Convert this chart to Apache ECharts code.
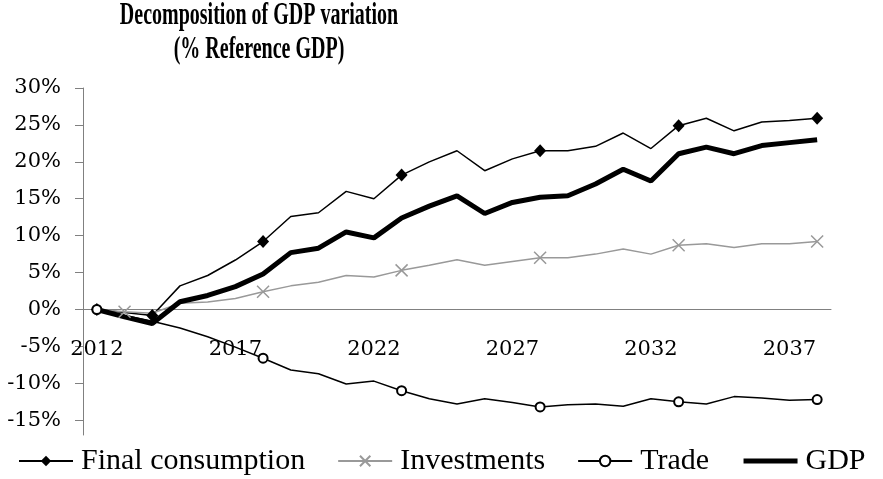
<!DOCTYPE html>
<html>
<head>
    <meta charset="utf-8">
    <title>ECharts</title>
    <script src="https://cdn.jsdelivr.net/npm/echarts@6/dist/echarts.min.js"></script>
</head>
<style>
    *{
        padding: 0;
        margin: 0;
    }
    #main {
        width: 883px;
        height: 479px;
        position: absolute
    }
</style>
<body>
    <div id="main" ></div>
    <script type="text/javascript">
    // categories and values (% of reference GDP)
    var years = ['2012','2013','2014','2015','2016','2017','2018','2019','2020','2021','2022','2023','2024','2025',
                 '2026','2027','2028','2029','2030','2031','2032','2033','2034','2035','2036','2037','2038'];
    var finalConsumption = [0, -0.4, -0.8, 3.2, 4.6, 6.7, 9.2, 12.6, 13.1, 16.0, 15.0, 18.2, 20.0, 21.5,
                            18.8, 20.4, 21.5, 21.5, 22.1, 23.9, 21.8, 24.9, 25.9, 24.2, 25.4, 25.6, 25.9];
    var investments = [0, -0.3, -0.5, 0.85, 1.0, 1.5, 2.4, 3.2, 3.7, 4.6, 4.4, 5.3, 6.0, 6.75,
                       6.0, 6.5, 7.0, 7.0, 7.5, 8.2, 7.5, 8.7, 8.9, 8.4, 8.9, 8.9, 9.2];
    var trade = [0, -0.8, -1.6, -2.5, -3.7, -5.1, -6.6, -8.2, -8.7, -10.1, -9.7, -11.0, -12.1, -12.8,
                 -12.1, -12.6, -13.2, -12.9, -12.8, -13.1, -12.1, -12.5, -12.8, -11.8, -12.0, -12.3, -12.2];
    var gdp = [0, -1.0, -1.9, 1.05, 1.9, 3.1, 4.8, 7.7, 8.3, 10.5, 9.7, 12.4, 14.0, 15.4,
               13.0, 14.5, 15.2, 15.4, 17.0, 19.0, 17.4, 21.1, 22.0, 21.1, 22.2, 22.6, 23.0];
    var yTicks = [-15, -10, -5, 0, 5, 10, 15, 20, 25, 30];

    // which points carry a marker
    var fcMarks = [0, 2, 6, 11, 16, 21, 26];
    var invMarks = [1, 6, 11, 16, 21, 26];
    var tradeMarks = [0, 6, 11, 16, 21, 26];

    function marked(values, marks) {
        return values.map(function (v, i) {
            return marks.indexOf(i) >= 0 ? v : { value: v, symbol: 'none' };
        });
    }

    var yMin = -17, yMax = 30;
    var gridTop = 88, gridBottom = 44, chartH = 479;
    var plotH = chartH - gridTop - gridBottom;
    // x axis sits on the 0% line
    var zeroOffset = -plotH * (0 - yMin) / (yMax - yMin);

    var axisFont = 'DejaVu Serif';
    var myChart = echarts.init(document.getElementById('main'));
    var option = {
        backgroundColor: '#fff',
        animation: false,
        graphic: [{
            type: 'text',
            x: 259,
            y: -1,
            scaleX: 0.625,
            style: {
                text: 'Decomposition of GDP variation\n(% Reference GDP)',
                font: 'bold 32px "Liberation Serif"',
                lineHeight: 34,
                textAlign: 'center',
                fill: '#000'
            }
        }],
        grid: { left: 83, right: 52, top: gridTop, bottom: gridBottom, outerBoundsMode: 'none' },
        legend: {
            left: 18,
            top: 446,
            width: 865,
            padding: 0,
            itemWidth: 54,
            itemHeight: 13,
            itemGap: 32,
            textStyle: { fontFamily: 'Liberation Serif', fontSize: 30, color: '#000', padding: [0, 0, 0, 3] },
            data: ['Final consumption', 'Investments', 'Trade', {
                name: 'GDP',
                lineStyle: { width: 5 },
                itemStyle: { color: 'rgba(0,0,0,0)', borderColor: 'rgba(0,0,0,0)' }
            }]
        },
        xAxis: {
            type: 'category',
            data: years,
            boundaryGap: true,
            offset: zeroOffset,
            axisLine: { onZero: false, lineStyle: { color: '#808080', width: 1 } },
            axisTick: { interval: 4, length: 7, lineStyle: { color: '#404040' } },
            axisLabel: { interval: 4, margin: 30, fontFamily: axisFont, fontSize: 21, color: '#000' }
        },
        yAxis: {
            type: 'value',
            min: yMin,
            max: yMax,
            splitLine: { show: false },
            axisLine: { show: true, lineStyle: { color: '#808080', width: 1 } },
            axisTick: { show: true, length: 8, customValues: yTicks, lineStyle: { color: '#808080' } },
            axisLabel: {
                customValues: yTicks,
                margin: 22,
                fontFamily: axisFont,
                fontSize: 21,
                color: '#000',
                formatter: function (v) { return v + '%'; }
            }
        },
        series: [{
            name: 'Final consumption',
            type: 'line',
            data: marked(finalConsumption, fcMarks),
            showAllSymbol: true,
            symbol: 'diamond',
            symbolSize: [12, 13],
            lineStyle: { color: '#000', width: 1.5 },
            itemStyle: { color: '#000' }
        }, {
            name: 'Investments',
            type: 'line',
            data: marked(investments, invMarks),
            showAllSymbol: true,
            symbol: 'path://M0,0L10,10M10,0L0,10',
            symbolSize: 12,
            lineStyle: { color: '#999999', width: 1.5 },
            itemStyle: { color: '#999999', borderColor: '#999999', borderWidth: 1.5 }
        }, {
            name: 'Trade',
            type: 'line',
            data: marked(trade, tradeMarks),
            showAllSymbol: true,
            symbol: 'emptyCircle',
            symbolSize: 9,
            lineStyle: { color: '#000', width: 1.5 },
            itemStyle: { color: '#000', borderWidth: 1.5 }
        }, {
            name: 'GDP',
            type: 'line',
            data: gdp,
            symbol: 'none',
            lineStyle: { color: '#000', width: 5 },
            itemStyle: { color: '#000' }
        }]
    };
    myChart.setOption(option);
    </script>
</body>
</html>
